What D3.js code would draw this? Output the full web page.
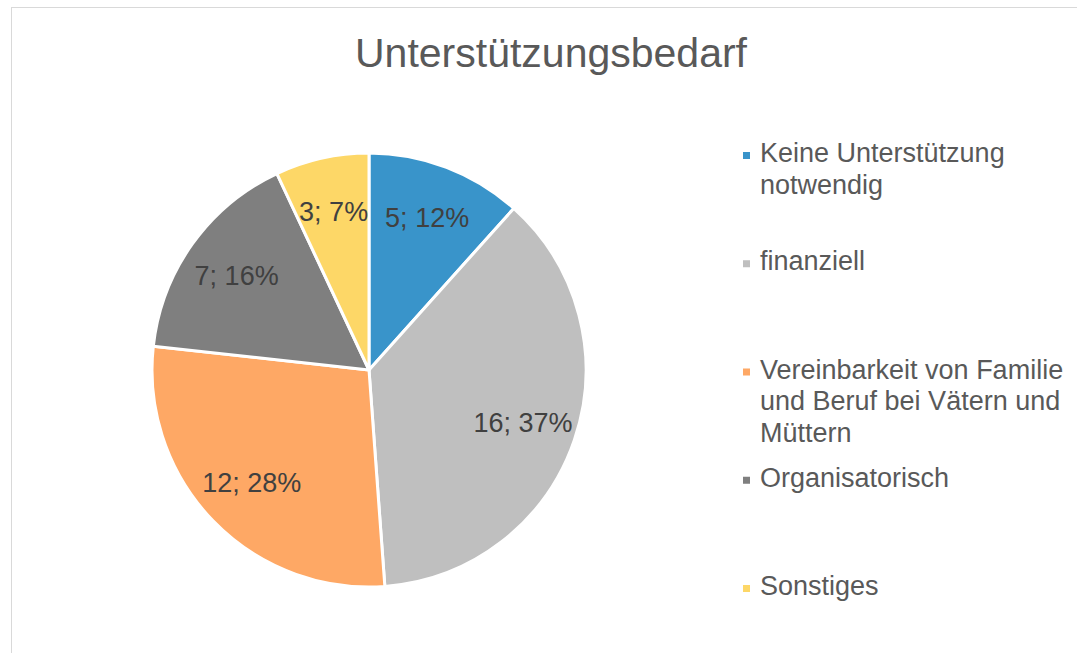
<!DOCTYPE html>
<html>
<head>
<meta charset="utf-8">
<script src="https://cdn.jsdelivr.net/npm/d3@7"></script>
<style>
  body { margin: 0; background: #fff; }
  svg { display: block; font-family: "Liberation Sans", Arial, sans-serif; }
</style>
</head>
<body>
<svg id="chart" width="1077" height="653"></svg>
<script>
const categories = ["Keine Unterstützung notwendig", "finanziell", "Vereinbarkeit von Familie und Beruf bei Vätern und Müttern", "Organisatorisch", "Sonstiges"];
const legendLines = [
    ["Keine Unterstützung", "notwendig"],
    ["finanziell"],
    ["Vereinbarkeit von Familie", "und Beruf bei Vätern und", "Müttern"],
    ["Organisatorisch"],
    ["Sonstiges"]
];
const values = [5, 16, 12, 7, 3];
const colors = ["#3994CA", "#BFBFBF", "#FEA865", "#7F7F7F", "#FDD767"];

const svg = d3.select("#chart");

// chart frame
svg.append("rect")
    .attr("x", 11.5).attr("y", 7.5)
    .attr("width", 1100).attr("height", 700)
    .attr("fill", "none")
    .attr("stroke", "#D9D9D9")
    .attr("stroke-width", 1);

svg.append("text")
    .attr("x", 551).attr("y", 67)
    .attr("text-anchor", "middle")
    .attr("font-size", 41)
    .attr("fill", "#595959")
    .text("Unterstützungsbedarf");

const cx = 369, cy = 370, radius = 217;
const total = d3.sum(values);

const pie = d3.pie().sort(null).value(d => d);
const arcs = pie(values);

const arc = d3.arc().innerRadius(0).outerRadius(radius);
const labelArc = d3.arc().innerRadius(radius * 0.75).outerRadius(radius * 0.75);

const g = svg.append("g").attr("transform", `translate(${cx},${cy})`);

g.selectAll("path")
    .data(arcs)
    .enter().append("path")
    .attr("d", arc)
    .attr("fill", (d, i) => colors[i])
    .attr("stroke", "#fff")
    .attr("stroke-width", 3)
    .attr("stroke-linejoin", "round");

g.selectAll("text.lbl")
    .data(arcs)
    .enter().append("text")
    .attr("class", "lbl")
    .attr("transform", d => `translate(${labelArc.centroid(d)})`)
    .attr("text-anchor", "middle")
    .attr("dy", "0.35em")
    .attr("font-size", 27)
    .attr("fill", "#404040")
    .text(d => `${d.data}; ${Math.round(d.data / total * 100)}%`);

// legend
const ly = d3.scalePoint().domain(d3.range(categories.length)).range([162, 595]);
const item = svg.append("g").selectAll("g")
    .data(categories)
    .enter().append("g")
    .attr("transform", (d, i) => `translate(743,${ly(i)})`);

item.append("rect")
    .attr("x", 0).attr("y", -10)
    .attr("width", 7).attr("height", 7)
    .attr("fill", (d, i) => colors[i]);

item.append("text")
    .attr("x", 17)
    .attr("font-size", 27)
    .attr("fill", "#595959")
    .selectAll("tspan")
    .data((d, i) => legendLines[i])
    .enter().append("tspan")
    .attr("x", 17)
    .attr("dy", (d, j) => j === 0 ? 0 : 31.5)
    .text(d => d);
</script>
</body>
</html>
